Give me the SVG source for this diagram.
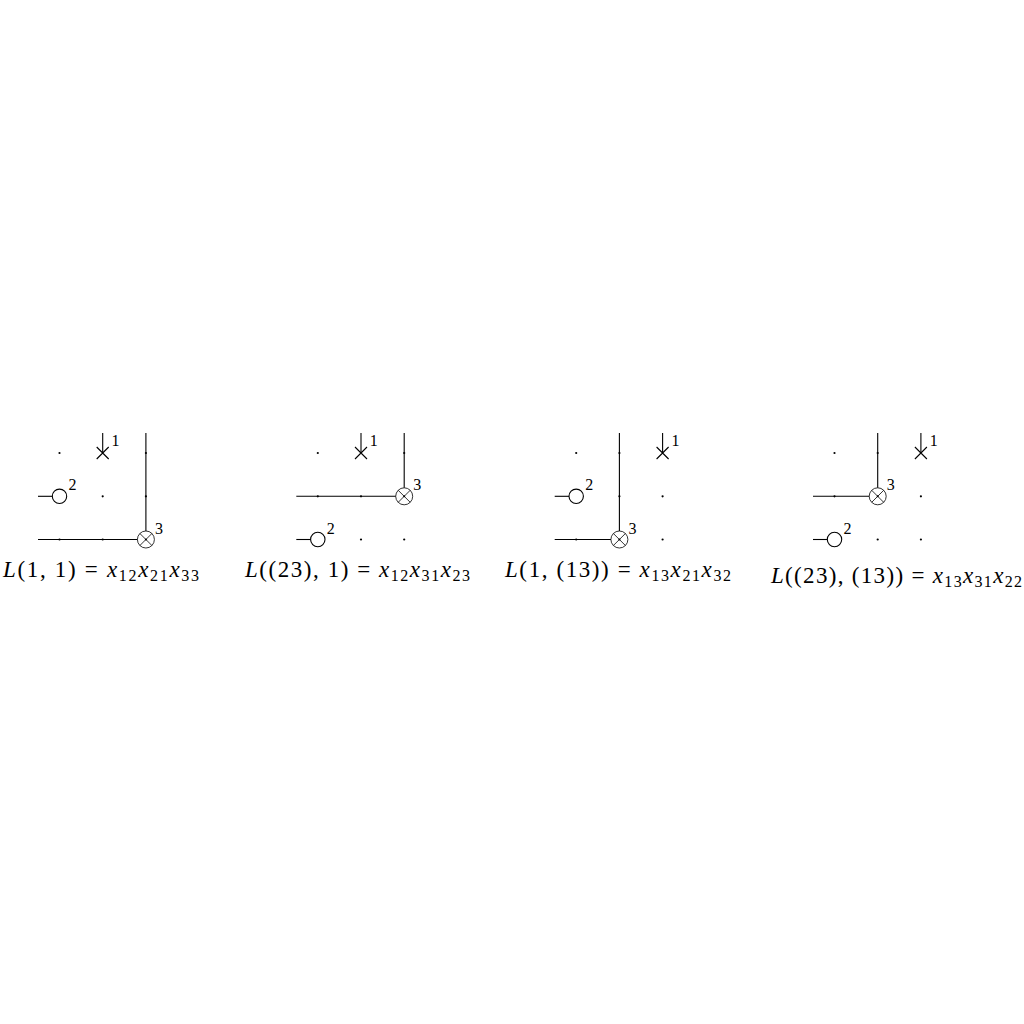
<svg xmlns="http://www.w3.org/2000/svg" xmlns:xlink="http://www.w3.org/1999/xlink" width="1024" height="1024" viewBox="0 0 1024 1024">
<style>
  .ln { stroke: #000; stroke-width: 1.1; fill: none; }
  .thin { stroke: #000; stroke-width: 0.8; fill: none; }
  .lbl { font-family: 'Liberation Serif', 'Times New Roman', serif; font-size: 16px; fill: #000; }
  .cap { font-family: 'Liberation Serif', 'Times New Roman', serif; font-size: 23px; fill: #000; }
  .it { font-style: italic; }
</style>
<defs>
  <g id="dot"><circle r="1.1" fill="#000"/></g>
  <g id="cross"><path class="ln" d="M-6,-6 L6,6 M6,-6 L-6,6"/></g>
  <g id="ocirc"><circle class="ln" r="7.2" fill="#fff"/></g>
  <g id="otimes"><circle class="thin" r="8.5" fill="#fff"/><path class="thin" d="M-6,-6 L6,6 M6,-6 L-6,6"/><circle r="1" fill="#000"/></g>
</defs>
<rect width="1024" height="1024" fill="#fff"/>

<!-- Panel 1 -->
<g id="panel1">
  <g id="p1-connectors">
    <line class="ln" x1="145.9" y1="433" x2="145.9" y2="531"/>
    <line class="ln" x1="38" y1="539.5" x2="137.4" y2="539.5"/>
    <line class="ln" x1="102.7" y1="433" x2="102.7" y2="453"/>
    <line class="ln" x1="38" y1="496.3" x2="52.3" y2="496.3"/>
  </g>
  <g id="p1-dots">
    <use xlink:href="#dot" x="59.5" y="453"/>
    <use xlink:href="#dot" x="145.9" y="453"/>
    <use xlink:href="#dot" x="102.7" y="496.3"/>
    <use xlink:href="#dot" x="145.9" y="496.3"/>
    <use xlink:href="#dot" x="59.5" y="539.5"/>
    <use xlink:href="#dot" x="102.7" y="539.5"/>
  </g>
  <g id="p1-n1"><use xlink:href="#cross" x="102.7" y="453"/><text class="lbl" x="111.5" y="446">1</text></g>
  <g id="p1-n2"><use xlink:href="#ocirc" x="59.5" y="496.3"/><text class="lbl" x="68.5" y="490.3">2</text></g>
  <g id="p1-n3"><use xlink:href="#otimes" x="145.9" y="539.5"/><text class="lbl" x="155" y="533.5">3</text></g>
  <text class="cap" x="3" y="576.5" textLength="196" lengthAdjust="spacing"><tspan class="it">L</tspan>(1, 1) = <tspan class="it">x</tspan><tspan dy="4" font-size="16">12</tspan><tspan dy="-4" class="it">x</tspan><tspan dy="4" font-size="16">21</tspan><tspan dy="-4" class="it">x</tspan><tspan dy="4" font-size="16">33</tspan></text>
</g>

<!-- Panel 2 -->
<g id="panel2" transform="translate(258.3,0)">
  <g id="p2-connectors">
    <line class="ln" x1="145.9" y1="433" x2="145.9" y2="487.8"/>
    <line class="ln" x1="38" y1="496.3" x2="137.4" y2="496.3"/>
    <line class="ln" x1="102.7" y1="433" x2="102.7" y2="453"/>
    <line class="ln" x1="38" y1="539.5" x2="52.3" y2="539.5"/>
  </g>
  <g id="p2-dots">
    <use xlink:href="#dot" x="59.5" y="453"/>
    <use xlink:href="#dot" x="145.9" y="453"/>
    <use xlink:href="#dot" x="59.5" y="496.3"/>
    <use xlink:href="#dot" x="102.7" y="496.3"/>
    <use xlink:href="#dot" x="102.7" y="539.5"/>
    <use xlink:href="#dot" x="145.9" y="539.5"/>
  </g>
  <g id="p2-n1"><use xlink:href="#cross" x="102.7" y="453"/><text class="lbl" x="111.5" y="446">1</text></g>
  <g id="p2-n3"><use xlink:href="#otimes" x="145.9" y="496.3"/><text class="lbl" x="155" y="490.3">3</text></g>
  <g id="p2-n2"><use xlink:href="#ocirc" x="59.5" y="539.5"/><text class="lbl" x="68.5" y="533.5">2</text></g>
  <text class="cap" x="-13.3" y="576.5" textLength="225" lengthAdjust="spacing"><tspan class="it">L</tspan>((23), 1) = <tspan class="it">x</tspan><tspan dy="4" font-size="16">12</tspan><tspan dy="-4" class="it">x</tspan><tspan dy="4" font-size="16">31</tspan><tspan dy="-4" class="it">x</tspan><tspan dy="4" font-size="16">23</tspan></text>
</g>

<!-- Panel 3 -->
<g id="panel3" transform="translate(516.7,0)">
  <g id="p3-connectors">
    <line class="ln" x1="102.7" y1="433" x2="102.7" y2="531"/>
    <line class="ln" x1="38" y1="539.5" x2="94.2" y2="539.5"/>
    <line class="ln" x1="145.9" y1="433" x2="145.9" y2="453"/>
    <line class="ln" x1="38" y1="496.3" x2="52.3" y2="496.3"/>
  </g>
  <g id="p3-dots">
    <use xlink:href="#dot" x="59.5" y="453"/>
    <use xlink:href="#dot" x="102.7" y="453"/>
    <use xlink:href="#dot" x="102.7" y="496.3"/>
    <use xlink:href="#dot" x="145.9" y="496.3"/>
    <use xlink:href="#dot" x="59.5" y="539.5"/>
    <use xlink:href="#dot" x="145.9" y="539.5"/>
  </g>
  <g id="p3-n1"><use xlink:href="#cross" x="145.9" y="453"/><text class="lbl" x="154.7" y="446">1</text></g>
  <g id="p3-n2"><use xlink:href="#ocirc" x="59.5" y="496.3"/><text class="lbl" x="68.5" y="490.3">2</text></g>
  <g id="p3-n3"><use xlink:href="#otimes" x="102.7" y="539.5"/><text class="lbl" x="111.8" y="533.5">3</text></g>
  <text class="cap" x="-11.7" y="576.5" textLength="226" lengthAdjust="spacing"><tspan class="it">L</tspan>(1, (13)) = <tspan class="it">x</tspan><tspan dy="4" font-size="16">13</tspan><tspan dy="-4" class="it">x</tspan><tspan dy="4" font-size="16">21</tspan><tspan dy="-4" class="it">x</tspan><tspan dy="4" font-size="16">32</tspan></text>
</g>

<!-- Panel 4 -->
<g id="panel4" transform="translate(775,0)">
  <g id="p4-connectors">
    <line class="ln" x1="102.7" y1="433" x2="102.7" y2="487.8"/>
    <line class="ln" x1="38" y1="496.3" x2="94.2" y2="496.3"/>
    <line class="ln" x1="145.9" y1="433" x2="145.9" y2="453"/>
    <line class="ln" x1="38" y1="539.5" x2="52.3" y2="539.5"/>
  </g>
  <g id="p4-dots">
    <use xlink:href="#dot" x="59.5" y="453"/>
    <use xlink:href="#dot" x="102.7" y="453"/>
    <use xlink:href="#dot" x="59.5" y="496.3"/>
    <use xlink:href="#dot" x="145.9" y="496.3"/>
    <use xlink:href="#dot" x="102.7" y="539.5"/>
    <use xlink:href="#dot" x="145.9" y="539.5"/>
  </g>
  <g id="p4-n1"><use xlink:href="#cross" x="145.9" y="453"/><text class="lbl" x="154.7" y="446">1</text></g>
  <g id="p4-n3"><use xlink:href="#otimes" x="102.7" y="496.3"/><text class="lbl" x="111.8" y="490.3">3</text></g>
  <g id="p4-n2"><use xlink:href="#ocirc" x="59.5" y="539.5"/><text class="lbl" x="68.5" y="533.5">2</text></g>
  <text class="cap" x="-4" y="582.5" textLength="251" lengthAdjust="spacing"><tspan class="it">L</tspan>((23), (13)) = <tspan class="it">x</tspan><tspan dy="4" font-size="16">13</tspan><tspan dy="-4" class="it">x</tspan><tspan dy="4" font-size="16">31</tspan><tspan dy="-4" class="it">x</tspan><tspan dy="4" font-size="16">22</tspan></text>
</g>
</svg>
